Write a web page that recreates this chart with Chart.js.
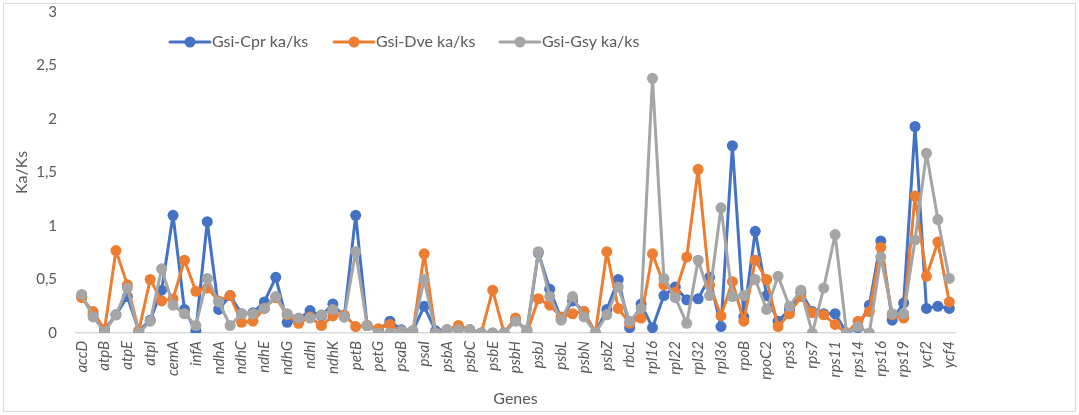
<!DOCTYPE html>
<html>
<head>
<meta charset="utf-8">
<script src="https://cdn.jsdelivr.net/npm/chart.js@4/dist/chart.umd.min.js"></script>
<style>
  html, body { margin: 0; padding: 0; background: #fff; }
  #wrap { width: 1079px; height: 415px; position: relative; }
</style>
</head>
<body>
<div id="wrap"><canvas id="c" width="1079" height="415"></canvas></div>
<script>
// Chloroplast genes (every other one is labelled on the axis)
const genes = [
  'accD','atpA','atpB','atpF','atpE','atpH','atpI','ccsA','cemA','clpP',
  'infA','matK','ndhA','ndhB','ndhC','ndhD','ndhE','ndhF','ndhG','ndhH',
  'ndhI','ndhJ','ndhK','petA','petB','petD','petG','psaA','psaB','psaC',
  'psaI','psaJ','psbA','psbB','psbC','psbD','psbE','psbF','psbH','psbI',
  'psbJ','psbK','psbL','psbM','psbN','psbT','psbZ','rpl2','rbcL','rpl14',
  'rpl16','rpl20','rpl22','rpl23','rpl32','rpl33','rpl36','rpoA','rpoB','rpoC1',
  'rpoC2','rps2','rps3','rps4','rps7','rps8','rps11','rps12','rps14','rps15',
  'rps16','rps18','rps19','ycf1','ycf2','ycf3','ycf4'
];

// Ka/Ks ratios per gene
const cprKaKs = [
  0.34,0.17,0.03,0.17,0.34,0.02,0.12,0.40,1.10,0.22,
  0.02,1.04,0.22,0.35,0.18,0.19,0.29,0.52,0.10,0.13,
  0.21,0.16,0.27,0.15,1.10,0.07,0.03,0.11,0.03,0.02,
  0.25,0.02,0.03,0.05,0.03,0.00,0.00,0.00,0.12,0.02,
  0.75,0.41,0.13,0.30,0.20,0.00,0.22,0.50,0.05,0.27,
  0.05,0.35,0.43,0.31,0.32,0.52,0.06,1.75,0.15,0.95,
  0.35,0.11,0.22,0.38,0.20,0.18,0.18,0.00,0.05,0.26,
  0.86,0.12,0.28,1.93,0.23,0.25,0.23
];
const dveKaKs = [
  0.33,0.20,0.03,0.77,0.45,0.02,0.50,0.30,0.32,0.68,
  0.39,0.42,0.30,0.35,0.10,0.11,0.23,0.33,0.17,0.09,
  0.15,0.07,0.16,0.17,0.06,0.07,0.04,0.08,0.01,0.00,
  0.74,0.00,0.03,0.07,0.03,0.00,0.40,0.00,0.14,0.00,
  0.32,0.26,0.15,0.18,0.20,0.00,0.76,0.23,0.09,0.14,
  0.74,0.45,0.38,0.71,1.53,0.45,0.16,0.48,0.11,0.68,
  0.50,0.06,0.18,0.34,0.19,0.17,0.08,0.00,0.11,0.20,
  0.80,0.17,0.14,1.28,0.53,0.85,0.29
];
const gsyKaKs = [
  0.36,0.15,0.01,0.17,0.42,0.00,0.11,0.60,0.26,0.18,
  0.07,0.51,0.29,0.07,0.18,0.18,0.23,0.34,0.18,0.14,
  0.14,0.17,0.22,0.15,0.76,0.07,0.00,0.00,0.02,0.02,
  0.50,0.00,0.03,0.03,0.03,0.00,0.00,0.00,0.11,0.03,
  0.76,0.34,0.12,0.34,0.15,0.00,0.17,0.43,0.11,0.23,
  2.38,0.51,0.33,0.09,0.68,0.35,1.17,0.34,0.35,0.50,
  0.22,0.53,0.25,0.40,0.00,0.42,0.92,0.00,0.06,0.00,
  0.71,0.18,0.18,0.87,1.68,1.06,0.51
];

const seriesNames = ['Gsi-Cpr ka/ks', 'Gsi-Dve ka/ks', 'Gsi-Gsy ka/ks'];
const seriesColors = ['#4472C4', '#ED7D31', '#A5A5A5'];

const FONT = 'Lato, "Open Sans", sans-serif';
const TEXT = '#595959';

function lineSet(i, data, order) {
  return {
    label: seriesNames[i],
    data: data,
    borderColor: seriesColors[i],
    backgroundColor: seriesColors[i],
    borderWidth: 3,
    borderJoinStyle: 'round',
    borderCapStyle: 'round',
    pointRadius: 5.5,
    pointBorderWidth: 0,
    pointBackgroundColor: seriesColors[i],
    tension: 0,
    fill: false,
    order: order
  };
}

// Legend drawn inside the plot, near its top
const insideLegend = {
  id: 'insideLegend',
  afterDraw(chart) {
    const ctx = chart.ctx;
    const starts = [170, 334, 500];
    const y = 42;
    ctx.save();
    ctx.font = '16px ' + FONT;
    ctx.textBaseline = 'middle';
    ctx.textAlign = 'left';
    chart.data.datasets.forEach((ds, i) => {
      const x0 = starts[i];
      ctx.strokeStyle = ds.borderColor;
      ctx.lineWidth = 3;
      ctx.lineCap = 'round';
      ctx.beginPath();
      ctx.moveTo(x0, y);
      ctx.lineTo(x0 + 40, y);
      ctx.stroke();
      ctx.fillStyle = ds.borderColor;
      ctx.beginPath();
      ctx.arc(x0 + 20, y, 5.5, 0, Math.PI * 2);
      ctx.fill();
      ctx.fillStyle = TEXT;
      ctx.fillText(ds.label, x0 + 42, y);
    });
    ctx.restore();
  }
};

// Thin frame around the whole chart
const frame = {
  id: 'frame',
  afterDraw(chart) {
    const ctx = chart.ctx;
    ctx.save();
    ctx.strokeStyle = '#D9D9D9';
    ctx.lineWidth = 1;
    ctx.strokeRect(3.5, 3.5, 1072, 408);
    ctx.restore();
  }
};

new Chart(document.getElementById('c'), {
  type: 'line',
  data: {
    labels: genes,
    datasets: [
      lineSet(0, cprKaKs, 3),
      lineSet(1, dveKaKs, 2),
      lineSet(2, gsyKaKs, 1)
    ]
  },
  options: {
    responsive: false,
    devicePixelRatio: 1,
    animation: false,
    layout: { padding: { left: 8, right: 124, top: 12, bottom: 3 } },
    plugins: {
      legend: { display: false },
      tooltip: { enabled: false }
    },
    scales: {
      x: {
        type: 'category',
        offset: true,
        grid: { display: false, drawTicks: false },
        border: { display: true, color: '#D9D9D9', width: 1.5 },
        ticks: {
          autoSkip: false,
          maxRotation: 90,
          minRotation: 90,
          padding: 8,
          color: TEXT,
          font: { family: FONT, size: 15, style: 'italic' },
          callback: (v, i) => (i % 2 === 0 ? genes[i] : '')
        },
        title: {
          display: true,
          text: 'Genes',
          color: TEXT,
          font: { family: FONT, size: 16 },
          padding: { top: 2, bottom: 4 }
        },
        afterFit: (s) => { s.height = 79; }
      },
      y: {
        min: 0,
        max: 3,
        grid: { display: false, drawTicks: false },
        border: { display: false },
        ticks: {
          stepSize: 0.5,
          padding: 19,
          color: TEXT,
          font: { family: FONT, size: 15 },
          callback: (v) => String(v).replace('.', ',')
        },
        title: {
          display: true,
          text: 'Ka/Ks',
          color: TEXT,
          font: { family: FONT, size: 16 },
          padding: { top: 4, bottom: 4 }
        },
        afterFit: (s) => {
          s.width = 68;
          // labels may overhang the plot's top edge
          s.paddingTop = 0;
          s.paddingBottom = 0;
        }
      }
    }
  },
  plugins: [insideLegend, frame]
});
</script>
</body>
</html>
